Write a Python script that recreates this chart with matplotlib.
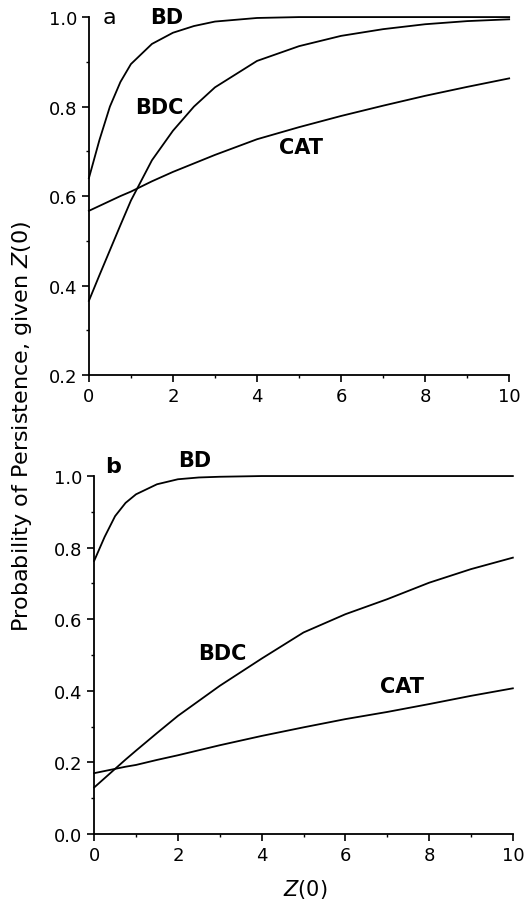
import numpy as np
import matplotlib
matplotlib.use("Agg")
import matplotlib.pyplot as plt
from matplotlib.ticker import MultipleLocator

# initial population Z(0)
z0 = [0, 0.25, 0.5, 0.75, 1, 1.5, 2, 2.5, 3, 4, 5, 6, 7, 8, 9, 10]

# panel a
bd_a = [0.64, 0.725, 0.80, 0.855, 0.895, 0.94, 0.965, 0.98, 0.99, 0.998, 1.0, 1.0, 1.0, 1.0, 1.0, 1.0]
bdc_a = [0.366, 0.423, 0.479, 0.535, 0.59, 0.68, 0.746, 0.80, 0.843, 0.902, 0.935, 0.958, 0.973, 0.984, 0.991, 0.995]
cat_a = [0.567, 0.578, 0.589, 0.60, 0.61, 0.633, 0.654, 0.673, 0.692, 0.727, 0.754, 0.779, 0.802, 0.824, 0.844, 0.863]

# panel b
bd_b = [0.763, 0.83, 0.888, 0.925, 0.949, 0.977, 0.991, 0.996, 0.998, 1.0, 1.0, 1.0, 1.0, 1.0, 1.0, 1.0]
bdc_b = [0.13, 0.156, 0.182, 0.208, 0.233, 0.282, 0.33, 0.372, 0.414, 0.49, 0.563, 0.614, 0.656, 0.702, 0.74, 0.772]
cat_b = [0.17, 0.176, 0.182, 0.188, 0.193, 0.207, 0.22, 0.234, 0.248, 0.274, 0.298, 0.321, 0.341, 0.363, 0.386, 0.407]

plt.rcParams['font.family'] = ['DejaVu Sans']

fig = plt.figure(figsize=(5.26, 9.04), dpi=100)
ax_a = fig.add_axes([0.169, 0.584, 0.799, 0.396])
ax_b = fig.add_axes([0.179, 0.0763, 0.796, 0.396])


def style(ax, ymin):
    for s in ['top', 'right']:
        ax.spines[s].set_visible(False)
    for s in ['left', 'bottom']:
        ax.spines[s].set_linewidth(1.3)
    ax.set_xlim(0, 10)
    ax.set_ylim(ymin, 1.0)
    ax.xaxis.set_major_locator(MultipleLocator(2))
    ax.xaxis.set_minor_locator(MultipleLocator(1))
    ax.yaxis.set_major_locator(MultipleLocator(0.2))
    ax.yaxis.set_minor_locator(MultipleLocator(0.1))
    ax.tick_params(which='major', direction='out', length=5, width=1.2, labelsize=13)
    ax.tick_params(which='minor', direction='out', length=2.5, width=1)
    ax.yaxis.set_major_formatter(plt.FuncFormatter(lambda v, p: '%.1f' % v))


for ax, bd, bdc, cat, ymin in [(ax_a, bd_a, bdc_a, cat_a, 0.2),
                               (ax_b, bd_b, bdc_b, cat_b, 0.0)]:
    ax.plot(z0, bd, color='black', lw=1.3, clip_on=False)
    ax.plot(z0, bdc, color='black', lw=1.3, clip_on=False)
    ax.plot(z0, cat, color='black', lw=1.3, clip_on=False)
    style(ax, ymin)

lab = dict(fontsize=15, fontweight='bold', ha='center', va='center')
ax_a.text(0.5, 1.0, 'a', fontsize=16, ha='center', va='center')
ax_a.text(1.85, 1.0, 'BD', **lab)
ax_a.text(1.67, 0.80, 'BDC', **lab)
ax_a.text(5.05, 0.71, 'CAT', **lab)

ax_b.text(0.45, 1.028, 'b', fontsize=16, fontweight='bold', ha='center', va='center', clip_on=False)
ax_b.text(2.4, 1.045, 'BD', clip_on=False, **lab)
ax_b.text(3.05, 0.507, 'BDC', **lab)
ax_b.text(7.35, 0.414, 'CAT', **lab)

fig.text(0.042, 0.529, 'Probability of Persistence, given $\\mathit{Z}$(0)',
         rotation=90, ha='center', va='center', fontsize=16)
fig.text(0.58, 0.0155, '$\\mathit{Z}$(0)', ha='center', va='center', fontsize=15)

fig.savefig('out.png', dpi=100)
